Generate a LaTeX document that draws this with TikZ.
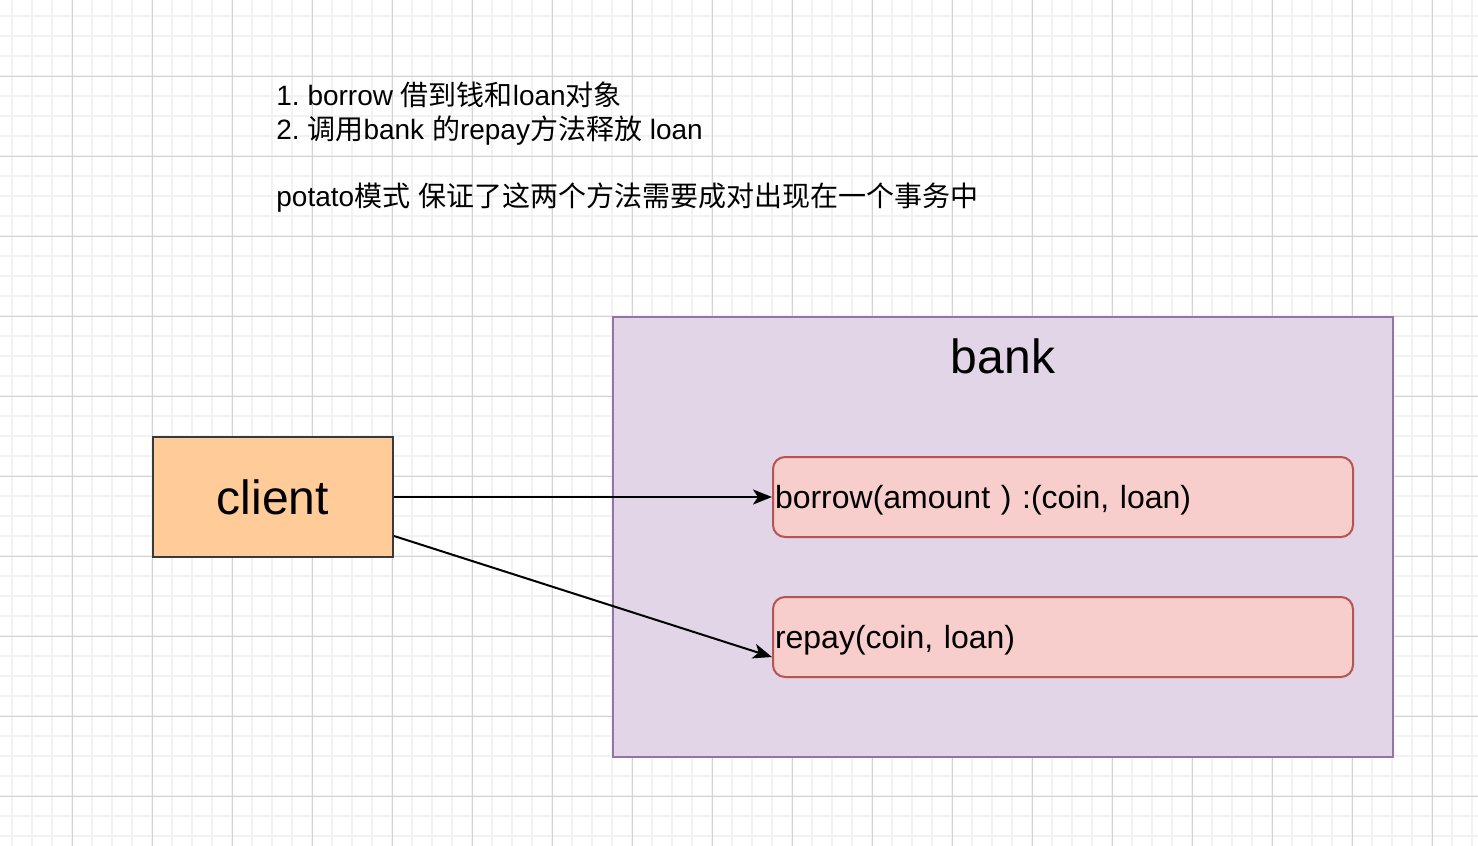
\documentclass[tikz,border=0pt]{standalone}
\usepackage{fontspec}
\setmainfont{Liberation Sans}
\newfontfamily\cjk{Noto Sans CJK SC}
\usetikzlibrary{arrows.meta}
\definecolor{gridminor}{HTML}{F2F2F2}
\definecolor{gridmajor}{HTML}{D3D3D3}
\definecolor{clientfill}{HTML}{FFCC99}
\definecolor{clientdraw}{HTML}{36393D}
\definecolor{bankfill}{HTML}{E1D5E7}
\definecolor{bankdraw}{HTML}{9673A6}
\definecolor{methfill}{HTML}{F8CECC}
\definecolor{methdraw}{HTML}{B85450}
\tikzset{
  minorline/.style={draw=gridminor, line width=0.75pt},
  majorline/.style={draw=gridmajor, line width=0.5pt},
  clientbox/.style={draw=clientdraw, fill=clientfill, line width=1pt, minimum width=120pt, minimum height=60pt, inner sep=0pt, font=\fontsize{24pt}{28.8pt}\selectfont},
  bankbox/.style={draw=bankdraw, fill=bankfill, line width=1pt, minimum width=390pt, minimum height=220pt, inner sep=0pt},
  methbox/.style={draw=methdraw, fill=methfill, line width=1pt, rounded corners=6pt, text width=288pt, inner xsep=1pt, text height=13pt, text depth=2pt, minimum height=40pt, align=left, font=\fontsize{16pt}{19.2pt}\selectfont},
  toptext/.style={anchor=base west, inner sep=0pt, font=\fontsize{14pt}{16.8pt}\selectfont},
  banktext/.style={anchor=base, inner sep=0pt, font=\fontsize{24pt}{28.8pt}\selectfont},
  conn/.style={draw=black, line width=1pt, -{Stealth[length=9.5pt, width=7.5pt, inset=2.5pt]}}
}
\begin{document}
\frenchspacing
\begin{tikzpicture}[x=0.5pt, y=-0.5pt]
\useasboundingbox (0,0) rectangle (1478,846);
\fill[white] (0,0) rectangle (1478,846);
% grid
\foreach \i in {12,32,...,1472} \draw[minorline] (\i,0) -- (\i,846);
\foreach \j in {16,36,...,836} \draw[minorline] (0,\j) -- (1478,\j);
\foreach \i in {72,152,...,1432} \draw[majorline] (\i,0) -- (\i,846);
\foreach \j in {76,156,...,796} \draw[majorline] (0,\j) -- (1478,\j);

% top text
\node[toptext] (t1) at (276,105) {1. borrow {\cjk 借到钱和}loan{\cjk 对象}};
\node[toptext] (t2) at (276,139) {2. {\cjk 调用}bank {\cjk 的}repay{\cjk 方法释放} loan};
\node[toptext] (t3) at (276,206) {potato{\cjk 模式} {\cjk 保证了这两个方法需要成对出现在一个事务中}};

% boxes
\node[bankbox] (bank) at (1003,537) {};
\node[banktext] (banklabel) at (1003,373) {bank};
\node[clientbox] (client) at (273,497) {client};
\node[methbox] (borrow) at (1063,497) {borrow(amount ) :(coin, loan)};
\node[methbox] (repay) at (1063,637) {repay(coin, loan)};

% connectors
\draw[conn] (client.east) -- (borrow.west);
\draw[conn] ([yshift=-19.5pt]client.east) -- ([yshift=-10pt]repay.west);
\end{tikzpicture}
\end{document}
